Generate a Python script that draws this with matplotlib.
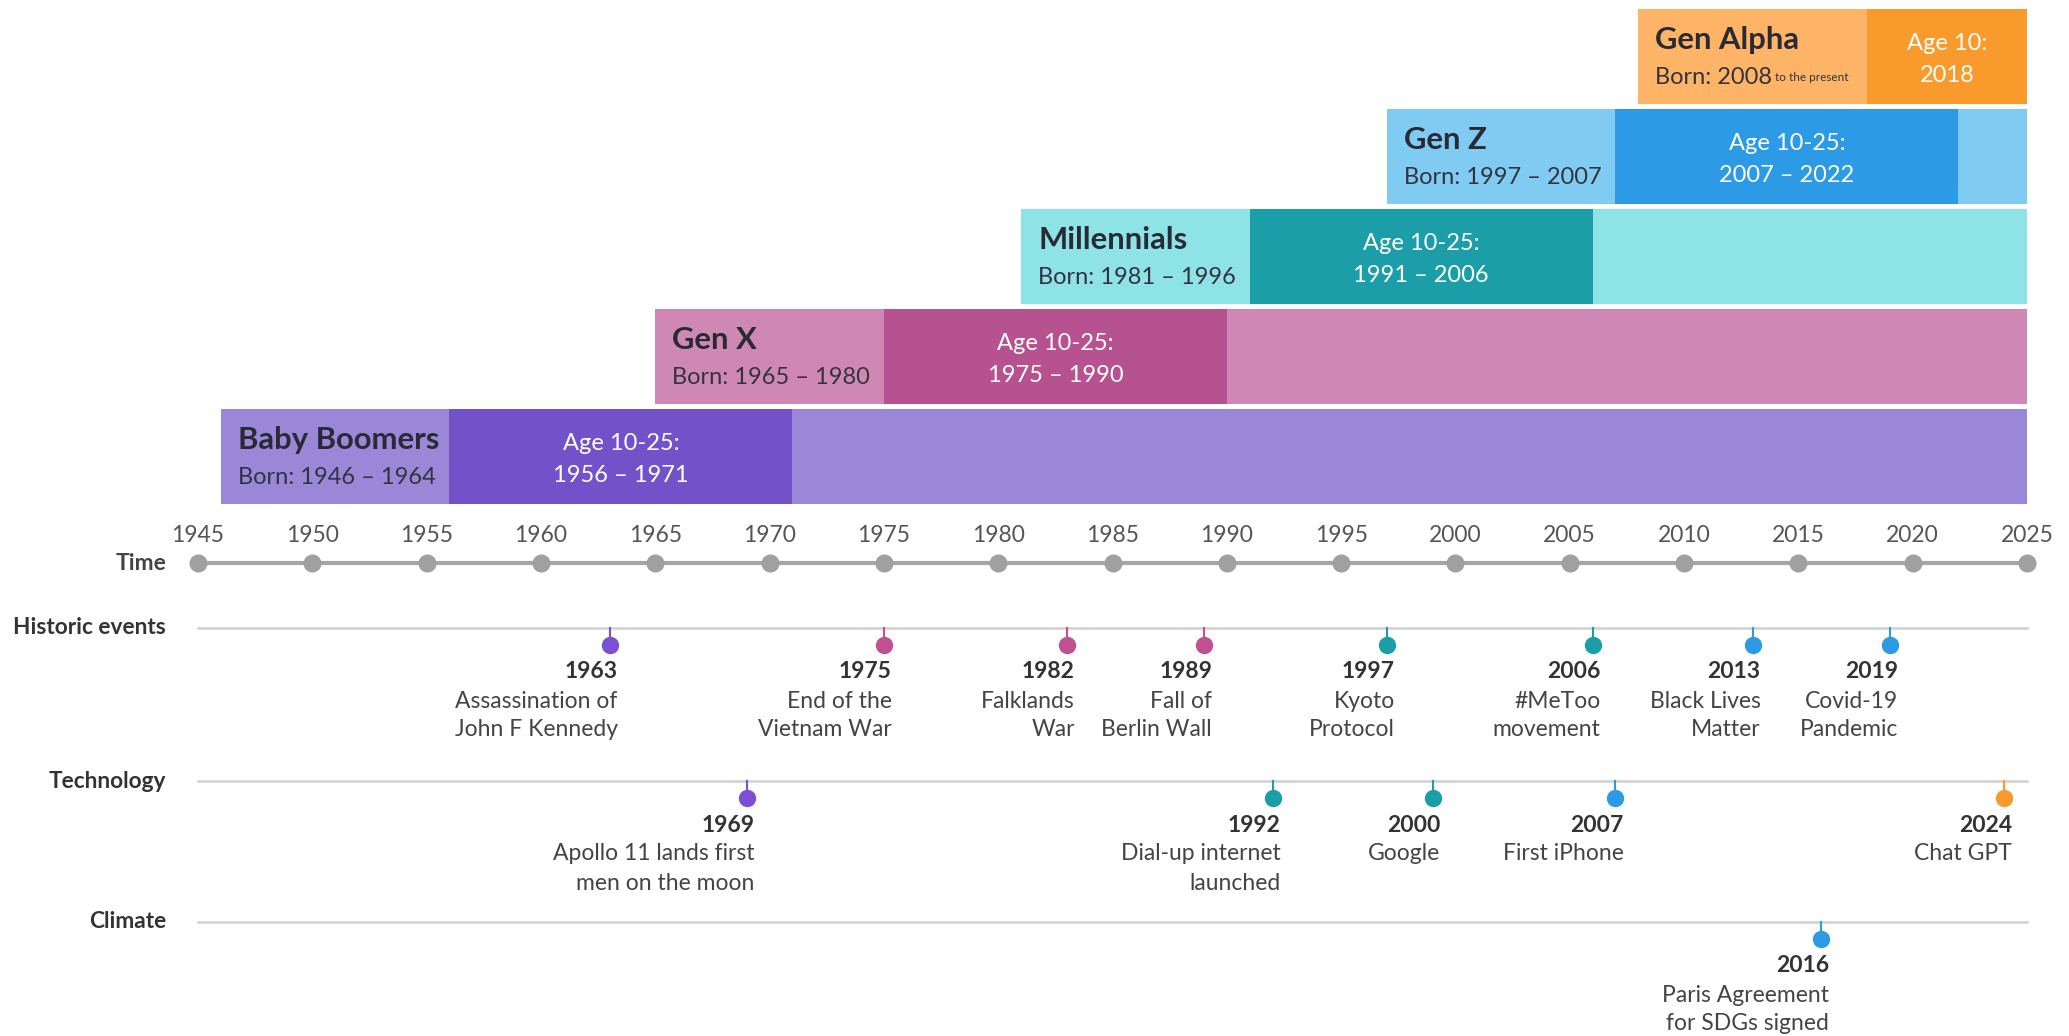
import numpy as np
import matplotlib.pyplot as plt

plt.rcParams['font.family'] = ['Lato', 'DejaVu Sans']

# --- generations ---
gen_names = ['Baby Boomers', 'Gen X', 'Millennials', 'Gen Z', 'Gen Alpha']
gen_born_txt = ['Born: 1946 \u2013 1964', 'Born: 1965 \u2013 1980', 'Born: 1981 \u2013 1996',
                'Born: 1997 \u2013 2007', 'Born: 2008']
born_start = [1946, 1965, 1981, 1997, 2008]
age_start = [1956, 1975, 1991, 2007, 2018]
age_end = [1971, 1990, 2006, 2022, 2025]
age_lines = [('Age 10-25:', '1956 \u2013 1971'), ('Age 10-25:', '1975 \u2013 1990'),
             ('Age 10-25:', '1991 \u2013 2006'), ('Age 10-25:', '2007 \u2013 2022'),
             ('Age 10:', '2018')]
light_cols = ['#9a87d8', '#cf88b3', '#8de3e6', '#80cbf2', '#fdb466']
dark_cols = ['#7352c9', '#b5528f', '#1c9ea8', '#2d9ae6', '#f99a2c']

# --- timeline ---
years = np.arange(1945, 2026, 5)

# --- events ---
hist_year = ['1963', '1975', '1982', '1989', '1997', '2006', '2013', '2019']
hist_x = [1963, 1975, 1983, 1989, 1997, 2006, 2013, 2019]
hist_txt = [('Assassination of', 'John F Kennedy'), ('End of the', 'Vietnam War'),
            ('Falklands', 'War'), ('Fall of', 'Berlin Wall'), ('Kyoto', 'Protocol'),
            ('#MeToo', 'movement'), ('Black Lives', 'Matter'), ('Covid-19', 'Pandemic')]
hist_col = ['#7b4fd6', '#c0508f', '#c0508f', '#c0508f', '#1a9ea8', '#1a9ea8', '#2d9ae6', '#2d9ae6']

tech_year = ['1969', '1992', '2000', '2007', '2024']
tech_x = [1969, 1992, 1999, 2007, 2024]
tech_txt = [('Apollo 11 lands first', 'men on the moon'), ('Dial-up internet', 'launched'),
            ('Google',), ('First iPhone',), ('Chat GPT',)]
tech_col = ['#7b4fd6', '#1a9ea8', '#1a9ea8', '#2d9ae6', '#f99a2c']

clim_year = ['2016']
clim_x = [2016]
clim_txt = [('Paris Agreement', 'for SDGs signed')]
clim_col = ['#2d9ae6']

# ==========================================
# figure: x in years, y in pixel rows (top = 0)
# ==========================================
fig = plt.figure(figsize=(20.69, 10.36), dpi=100)
ax = fig.add_axes([0, 0, 1, 1])
px_per_year = (2027 - 198) / 80
ax.set_xlim(1945 - 198 / px_per_year, 2025 + 42 / px_per_year)
ax.set_ylim(1036, 0)
ax.axis('off')

# bars
bar_h = 95
for i, name in enumerate(gen_names):
    top = 409 - 100 * i
    yc = top + bar_h / 2
    ax.barh(yc, age_start[i] - born_start[i], left=born_start[i], height=bar_h,
            color=light_cols[i], edgecolor='none')
    ax.barh(yc, age_end[i] - age_start[i], left=age_start[i], height=bar_h,
            color=dark_cols[i], edgecolor='none')
    if age_end[i] < 2025:
        ax.barh(yc, 2025 - age_end[i], left=age_end[i], height=bar_h,
                color=light_cols[i], edgecolor='none')
    x0 = born_start[i] + 17 / px_per_year
    ax.text(x0, top + 31, name, fontsize=22.3, fontweight='bold', color='#2a2a36',
            ha='left', va='center')
    bt = ax.text(x0, top + 68, gen_born_txt[i], fontsize=17, color='#333340',
                 ha='left', va='center')
    if i == 4:
        ax.annotate(' to the present', xy=(1, 0.2), xycoords=bt, fontsize=8.5,
                    color='#333340', ha='left', va='bottom')
    xm = (age_start[i] + age_end[i]) / 2
    ax.text(xm, top + 34, age_lines[i][0], fontsize=17, color='white',
            ha='center', va='center')
    ax.text(xm, top + 67, age_lines[i][1], fontsize=17, color='white',
            ha='center', va='center')

# time axis
time_y = 563
ax.plot([1945, 2025], [time_y, time_y], color='#a6a6a6', lw=3, zorder=2)
ax.plot(years, np.full(len(years), time_y), 'o', color='#a0a0a0', ms=12, zorder=3)
for yr in years:
    ax.text(yr, 536, str(yr), fontsize=16.5, color='#555555', ha='center', va='center')
ax.text(1945 - 32 / px_per_year, time_y, 'Time', fontsize=16.5, color='#444444',
        fontweight='bold', ha='right', va='center')


def event_row(line_y, label, xs, yrs, texts, cols):
    ax.plot([1945, 2025], [line_y, line_y], color='#d0d0d0', lw=1.8, zorder=1)
    ax.text(1945 - 32 / px_per_year, line_y, label, fontsize=16.3, color='#333333',
            fontweight='bold', ha='right', va='center')
    for x, yr, t, c in zip(xs, yrs, texts, cols):
        ax.plot([x, x], [line_y, line_y + 14], color=c, lw=1.5, zorder=2)
        ax.plot(x, line_y + 17, 'o', color=c, ms=12.5, mec='none', zorder=3)
        xr = x + 8 / px_per_year
        ax.text(xr, line_y + 44, yr, fontsize=16.5, color='#333333',
                fontweight='bold', ha='right', va='center')
        for k, line in enumerate(t):
            ax.text(xr, line_y + 73 + 29 * k, line, fontsize=16.5, color='#444444',
                    ha='right', va='center')


event_row(628, 'Historic events', hist_x, hist_year, hist_txt, hist_col)
event_row(781, 'Technology', tech_x, tech_year, tech_txt, tech_col)
event_row(922, 'Climate', clim_x, clim_year, clim_txt, clim_col)

fig.savefig('out.png', dpi=100, facecolor='white')
